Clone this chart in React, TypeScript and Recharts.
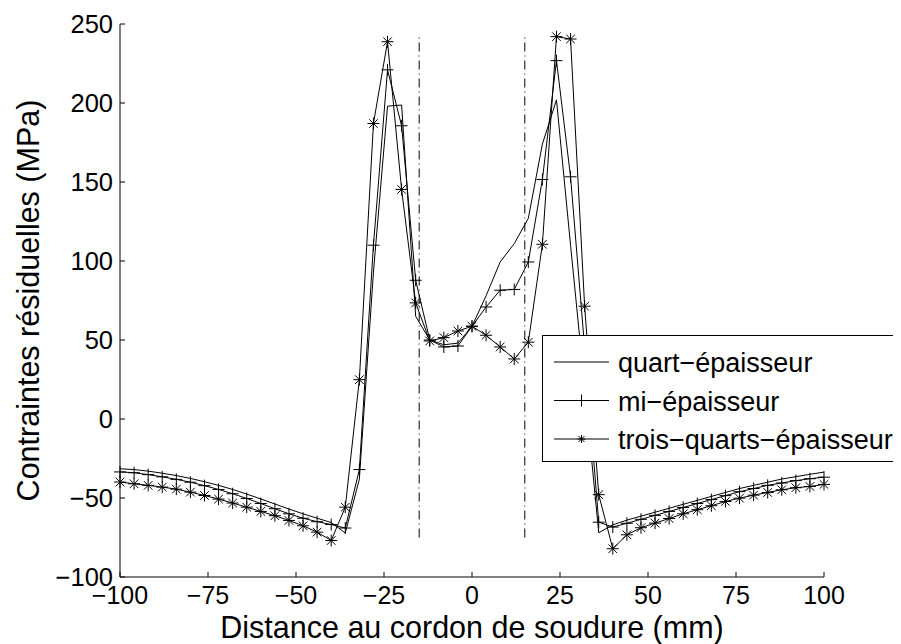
import React from 'react';
import { LineChart, Line, XAxis, YAxis, ReferenceLine } from 'recharts';

const distances = [-100, -96, -92, -88, -84, -80, -76, -72, -68, -64, -60, -56, -52, -48, -44, -40, -36, -32, -28, -24, -20, -16, -12, -8, -4, 0, 4, 8, 12, 16, 20, 24, 28, 32, 36, 40, 44, 48, 52, 56, 60, 64, 68, 72, 76, 80, 84, 88, 92, 96, 100];

const quartEpaisseur = [-31.5, -32, -33, -34.3, -35.8, -37.6, -39.7, -42, -44.6, -47.5, -50.6, -53.8, -57, -60, -62.8, -65.5, -72.2, -38, 93, 198, 198.7, 65, 50, 47, 48, 58.7, 78, 99.4, 111, 127, 174, 202, 110, 20, -72, -67, -64, -61.5, -59, -56.5, -54, -51.5, -49, -46.5, -44, -42, -40, -38, -36.5, -35, -33.6];

const miEpaisseur = [-33.5, -34, -35.2, -36.6, -38.2, -40, -42.2, -44.6, -47.3, -50.3, -53.5, -56.8, -60, -62.8, -65, -66.8, -69, -32, 110, 221, 185.6, 87.8, 50, 45.6, 46.2, 58.7, 70.9, 81.5, 82, 99.4, 151.6, 226.8, 153.3, 45, -65.3, -68.4, -66, -63.5, -61, -58.5, -56, -53.5, -51, -48.5, -46, -44, -42, -40.5, -39, -37.8, -36.8];

const troisQuartsEpaisseur = [-39.9, -41, -42, -43.1, -44.4, -46.3, -48.4, -50.7, -53.2, -55.8, -58.5, -61.2, -64.2, -67.6, -71.6, -76.9, -55.8, 24.9, 187, 238.8, 145.3, 73.5, 49.4, 51.5, 55.7, 58.7, 53, 45.6, 38, 48.6, 110.6, 242, 240.5, 71.4, -47.9, -82.1, -73.3, -68.8, -65.9, -63, -60, -57.4, -54.9, -52.2, -50.1, -48.2, -46.5, -44.8, -43.5, -42.7, -41.4];

const seriesNames = ['quart\u2212épaisseur', 'mi\u2212épaisseur', 'trois\u2212quarts\u2212épaisseur'];
const xTicks = [-100, -75, -50, -25, 0, 25, 50, 75, 100];
const yTicks = [-100, -50, 0, 50, 100, 150, 200, 250];
const zoneLimits = [-15, 15];
const zoneSpan = [-75, 242];

const data = distances.map((d, i) => ({
  d,
  q: quartEpaisseur[i],
  m: miEpaisseur[i],
  t: troisQuartsEpaisseur[i],
}));

const FONT = '"Liberation Sans", Arial, Helvetica, sans-serif';
const fmt = (v: number) => String(v).replace('-', '\u2212');

const PlusDot = (p: any) => {
  const { cx, cy, index } = p;
  if (cx == null || cy == null) return <g key={index} />;
  const r = 6;
  return (
    <g key={`p${index}`} stroke="#000" strokeWidth={1}>
      <line x1={cx - r} y1={cy} x2={cx + r} y2={cy} />
      <line x1={cx} y1={cy - r} x2={cx} y2={cy + r} />
    </g>
  );
};

const StarDot = (p: any) => {
  const { cx, cy, index } = p;
  if (cx == null || cy == null) return <g key={index} />;
  const r = 6;
  const d = 4.3;
  return (
    <g key={`s${index}`} stroke="#000" strokeWidth={1}>
      <line x1={cx - r} y1={cy} x2={cx + r} y2={cy} />
      <line x1={cx} y1={cy - r} x2={cx} y2={cy + r} />
      <line x1={cx - d} y1={cy - d} x2={cx + d} y2={cy + d} />
      <line x1={cx - d} y1={cy + d} x2={cx + d} y2={cy - d} />
    </g>
  );
};

const LegendBox = () => (
  <div style={{ position: 'absolute', left: 534, top: 327, width: 358, height: 127, border: '1px solid #000', background: '#fff', boxSizing: 'border-box' }}>
    <svg width={356} height={125} style={{ display: 'block' }}>
      {seriesNames.map((name, i) => {
        const y = 26 + i * 38.5;
        return (
          <g key={name}>
            <line x1={11} y1={y} x2={66} y2={y} stroke="#000" strokeWidth={1} />
            {i === 1 && PlusDot({ cx: 38.5, cy: y, index: 'l' + i })}
            {i === 2 && (
              <g stroke="#000" strokeWidth={1}>
                <line x1={34.5} y1={y} x2={42.5} y2={y} />
                <line x1={38.5} y1={y - 4} x2={38.5} y2={y + 4} />
                <line x1={35.5} y1={y - 3} x2={41.5} y2={y + 3} />
                <line x1={35.5} y1={y + 3} x2={41.5} y2={y - 3} />
              </g>
            )}
            <text x={75} y={y + 10} fontFamily={FONT} fontSize={27} fill="#000">{name}</text>
          </g>
        );
      })}
    </svg>
  </div>
);

const YLabel = (props: any) => {
  const vb = props.viewBox;
  const cx = 31;
  const cy = vb.y + vb.height / 2;
  return (
    <text x={cx} y={cy} transform={`rotate(-90, ${cx}, ${cy})`} textAnchor="middle" fontFamily={FONT} fontSize={30.5} fill="#000">
      Contraintes résiduelles (MPa)
    </text>
  );
};

export default function App() {
  return (
    <div style={{ position: 'relative', width: 893, height: 636 }}>
      <LineChart
        width={893}
        height={636}
        data={data}
        margin={{ top: 16, right: 77, bottom: 0, left: 0 }}
        style={{ fontFamily: FONT }}
      >
        <XAxis
          dataKey="d"
          type="number"
          domain={[-100, 100]}
          ticks={xTicks}
          tickFormatter={fmt}
          height={67}
          tickSize={-5}
          tickMargin={14}
          stroke="#000"
          tick={{ fill: '#000', fontSize: 25, fontFamily: FONT }}
          label={{ value: 'Distance au cordon de soudure (mm)', position: 'insideBottom', offset: 6, fill: '#000', fontSize: 30.5, fontFamily: FONT }}
        />
        <YAxis
          type="number"
          domain={[-100, 250]}
          ticks={yTicks}
          tickFormatter={fmt}
          width={112}
          tickSize={-5}
          tickMargin={12}
          stroke="#000"
          tick={{ fill: '#000', fontSize: 25.5, fontFamily: FONT }}
          label={<YLabel />}
        />
        {zoneLimits.map((x) => (
          <ReferenceLine
            key={x}
            segment={[{ x, y: zoneSpan[0] }, { x, y: zoneSpan[1] }]}
            stroke="#000"
            strokeWidth={1}
            strokeDasharray="9 4 1 4"
          />
        ))}
        <Line type="linear" dataKey="q" name={seriesNames[0]} stroke="#000" strokeWidth={1} dot={false} isAnimationActive={false} />
        <Line type="linear" dataKey="m" name={seriesNames[1]} stroke="#000" strokeWidth={1} dot={PlusDot} isAnimationActive={false} />
        <Line type="linear" dataKey="t" name={seriesNames[2]} stroke="#000" strokeWidth={1} dot={StarDot} isAnimationActive={false} />
      </LineChart>
      <LegendBox />
    </div>
  );
}
